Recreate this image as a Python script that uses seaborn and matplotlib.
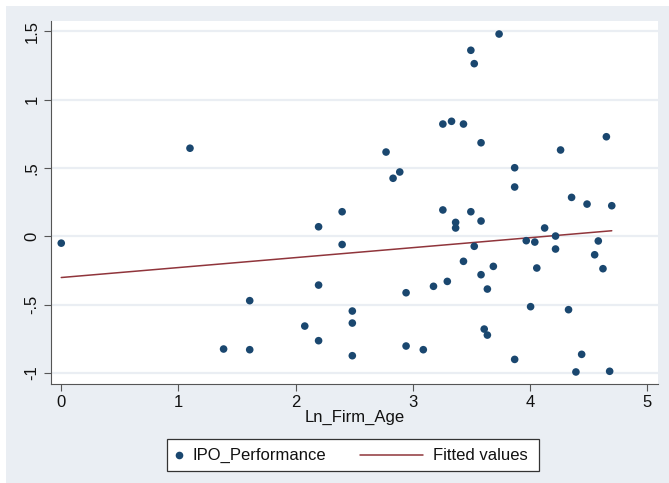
import numpy as np
import pandas as pd
import matplotlib.pyplot as plt
import seaborn as sns
from matplotlib.patches import Rectangle
from matplotlib.lines import Line2D

sns.set_style("white")
plt.rcParams['font.family'] = ['Liberation Sans', 'DejaVu Sans']

# data
ln_firm_age = [0.000, 1.099, 2.197, 2.398, 2.398, 3.738, 3.497, 3.526, 3.258, 3.332,
               3.434, 3.584, 2.773, 2.833, 2.890, 3.871, 3.871, 4.263, 4.654, 4.357,
               4.489, 4.700, 3.258, 3.497, 3.367, 3.367, 3.584, 4.127, 4.220, 3.970,
               4.043, 4.585, 3.526, 4.220, 4.554, 4.625, 3.434, 3.584, 3.689, 4.060,
               3.638, 3.296, 3.178, 2.944, 2.485, 2.485, 2.485, 4.007, 4.331, 3.611,
               3.638, 2.944, 3.091, 3.871, 4.443, 4.394, 4.682, 1.609, 2.197, 2.079,
               2.197, 1.386, 1.609]
ipo_perf = [-0.050, 0.645, 0.070, 0.180, -0.060, 1.481, 1.362, 1.264, 0.822, 0.842,
            0.822, 0.685, 0.617, 0.425, 0.471, 0.502, 0.361, 0.632, 0.729, 0.285,
            0.236, 0.224, 0.193, 0.180, 0.102, 0.061, 0.112, 0.061, 0.002, -0.032,
            -0.042, -0.034, -0.073, -0.093, -0.135, -0.237, -0.183, -0.281, -0.220, -0.232,
            -0.386, -0.330, -0.366, -0.413, -0.547, -0.635, -0.874, -0.515, -0.537, -0.679,
            -0.723, -0.803, -0.830, -0.901, -0.864, -0.993, -0.988, -0.471, -0.357, -0.657,
            -0.764, -0.825, -0.830]
y_ticks = [-1, -0.5, 0, 0.5, 1, 1.5]
y_tick_labels = ['-1', '-.5', '0', '.5', '1', '1.5']
x_ticks = [0, 1, 2, 3, 4, 5]

df = pd.DataFrame({'Ln_Firm_Age': ln_firm_age, 'IPO_Performance': ipo_perf})

navy = '#1a476f'
maroon = '#90353b'
bg = '#eaeef3'
W, H = 669, 483

fig = plt.figure(figsize=(W / 100, H / 100), dpi=100, facecolor='white')
fig.patches.append(Rectangle((6 / W, 0), 1, 1 - 6 / H, transform=fig.transFigure,
                             facecolor=bg, edgecolor='none', zorder=-10))
ax = fig.add_axes([0.0758, 0.205, 0.9078, 0.752])
ax.set_facecolor('white')

for yt in y_ticks:
    ax.axhline(yt, color=bg, lw=1.6, zorder=0)

sns.scatterplot(data=df, x='Ln_Firm_Age', y='IPO_Performance', ax=ax, color=navy,
                s=30, edgecolor='none', zorder=3)
sns.regplot(data=df, x='Ln_Firm_Age', y='IPO_Performance', ax=ax, scatter=False,
            ci=None, line_kws={'color': maroon, 'lw': 1.1, 'zorder': 2})

ax.set_xlim(-0.09, 5.095)
ax.set_ylim(-1.081, 1.578)
ax.set_xticks(x_ticks)
ax.set_yticks(y_ticks)
ax.set_yticklabels(y_tick_labels, rotation=90, va='center')
ax.tick_params(axis='both', direction='out', length=5, width=0.8, color='#555555',
               labelsize=12, labelcolor='#111111', left=True, bottom=True, pad=3)
ax.set_xlabel('Ln_Firm_Age', fontsize=12, labelpad=0, color='#111111')
ax.set_ylabel('')
for side in ['top', 'right']:
    ax.spines[side].set_visible(False)
for side in ['left', 'bottom']:
    ax.spines[side].set_color('#555555')
    ax.spines[side].set_linewidth(0.8)

# legend box below the plot, laid out like Stata's
def fx(px):
    return px / W

def fy(py):
    return 1 - py / H

fig.add_artist(Rectangle((fx(167), fy(471)), fx(539) - fx(167), fy(439) - fy(471),
                         transform=fig.transFigure, facecolor='white',
                         edgecolor='#333333', lw=0.9))
fig.add_artist(Line2D([fx(179)], [fy(455)], transform=fig.transFigure, marker='o',
                      ls='none', color=navy, markersize=5.5, markeredgewidth=0))
fig.text(fx(193), fy(455), 'IPO_Performance', fontsize=12, va='center', ha='left',
         color='#111111')
fig.add_artist(Line2D([fx(360), fx(423)], [fy(455), fy(455)], transform=fig.transFigure,
                      color=maroon, lw=1.1))
fig.text(fx(433), fy(455), 'Fitted values', fontsize=12, va='center', ha='left',
         color='#111111')

fig.savefig('out.png', dpi=100, facecolor=fig.get_facecolor())
